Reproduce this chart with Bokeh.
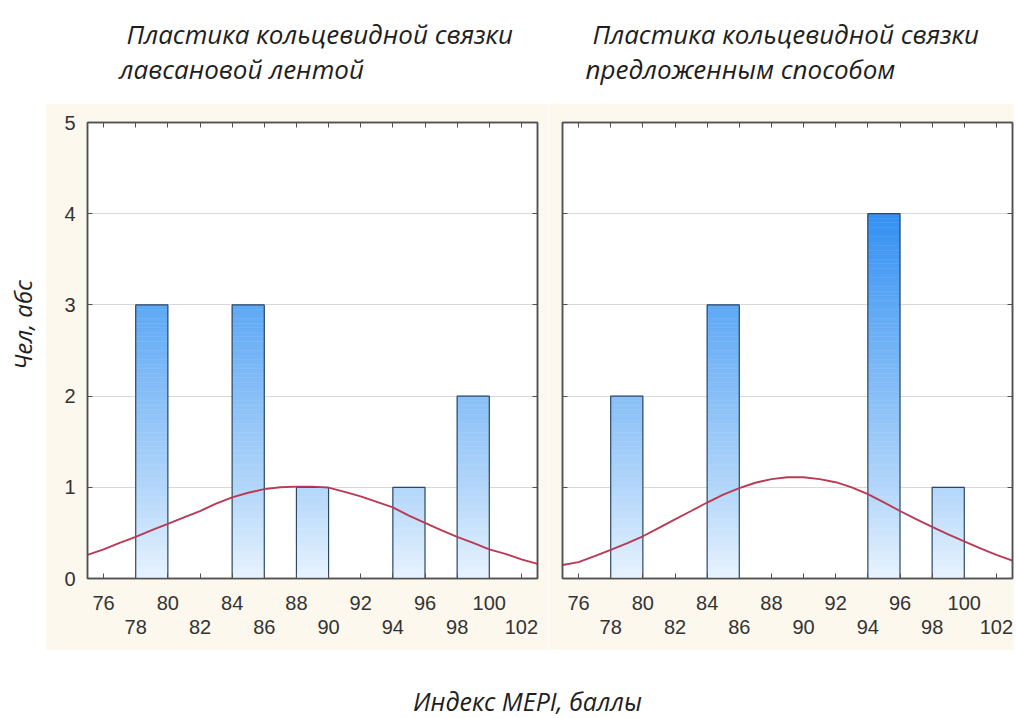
import math
import numpy as np
from bokeh.plotting import figure
from bokeh.models import Range1d, LinearAxis, FixedTicker, Label, ColumnDataSource, Grid
from bokeh.layouts import column, row
from bokeh.embed import file_html
from bokeh.resources import INLINE

# ---------------- data ----------------
title_left = ["Пластика кольцевидной связки", "лавсановой лентой"]
title_right = ["Пластика кольцевидной связки", "предложенным способом"]
y_label = "Чел, абс"
x_label = "Индекс MEPI, баллы"

left_bin_lo = [78, 84, 88, 94, 98]
left_bin_hi = [80, 86, 90, 96, 100]
left_counts = [3, 3, 1, 1, 2]

right_bin_lo = [78, 84, 94, 98]
right_bin_hi = [80, 86, 96, 100]
right_counts = [2, 3, 4, 1]

curve_x = [75, 76, 77, 78, 79, 80, 81, 82, 83, 84, 85, 86, 87, 88, 89,
           90, 91, 92, 93, 94, 95, 96, 97, 98, 99, 100, 101, 102, 103]
curve_left_y = [0.26, 0.32, 0.39, 0.456, 0.53, 0.60, 0.67, 0.74, 0.82, 0.89, 0.94, 0.98, 1.0, 1.007, 1.007,
                0.996, 0.95, 0.90, 0.84, 0.78, 0.69, 0.61, 0.53, 0.456, 0.39, 0.32, 0.27, 0.21, 0.16]
curve_right_y = [0.148, 0.18, 0.245, 0.315, 0.385, 0.463, 0.555, 0.648, 0.74, 0.833, 0.92, 0.99, 1.05, 1.09, 1.11,
                 1.11, 1.09, 1.056, 1.0, 0.926, 0.835, 0.74, 0.65, 0.567, 0.485, 0.407, 0.33, 0.26, 0.196]

x_ticks_row1 = [76, 80, 84, 88, 92, 96, 100]
x_ticks_row2 = [78, 82, 86, 90, 94, 98, 102]
y_ticks = [0, 1, 2, 3, 4, 5]

# ---------------- style ----------------
CREAM = "#fcf8ee"
AXIS_C = "#505050"
TICK_FONT = "Liberation Sans"
TICK_SIZE = "20px"
TICK_COLOR = "#333333"
TEXT_FONT = "Open Sans"
BAR_LINE = "#2c4866"
CURVE_C = "#b83a55"
GRAD_Y = [0, 1, 2, 3, 4]
GRAD_R = [232, 178, 136, 94, 52]
GRAD_G = [243, 214, 191, 168, 144]
GRAD_B = [254, 250, 247, 245, 242]
STEP = 0.05


def grad_color(yv):
    r = int(round(np.interp(yv, GRAD_Y, GRAD_R)))
    g = int(round(np.interp(yv, GRAD_Y, GRAD_G)))
    b = int(round(np.interp(yv, GRAD_Y, GRAD_B)))
    return "#%02x%02x%02x" % (r, g, b)


def blank(w, h):
    f = figure(width=w, height=h, x_range=Range1d(0, w), y_range=Range1d(0, h),
               output_backend="svg", toolbar_location=None,
               x_axis_location=None, y_axis_location=None, min_border=0,
               outline_line_color=None, background_fill_color="white",
               border_fill_color="white")
    for g in f.grid:
        g.visible = False
    return f


def hidden_label_axis(axis, ticks):
    axis.major_label_overrides = {t: "" for t in ticks}
    axis.major_label_standoff = 0
    axis.minor_tick_line_color = None
    axis.major_tick_in = 5
    axis.major_tick_out = 0
    axis.major_tick_line_color = AXIS_C
    axis.axis_line_color = AXIS_C
    axis.axis_line_width = 1.5


def panel(width, mb_left, mb_right, lo, hi, counts, cy, show_ylabels):
    p = figure(width=width, height=547, x_range=Range1d(75, 103), y_range=Range1d(0, 5),
               output_backend="svg", toolbar_location=None,
               x_axis_location=None, y_axis_location=None,
               min_border_left=mb_left, min_border_right=mb_right,
               min_border_top=19, min_border_bottom=72,
               background_fill_color="white", border_fill_color=CREAM,
               outline_line_color=AXIS_C, outline_line_width=1.5)
    for g in p.grid:
        g.visible = False
    p.add_layout(Grid(dimension=1, ticker=FixedTicker(ticks=[1, 2, 3, 4]),
                      grid_line_color="#d8d8d8", grid_line_width=1))

    all_x = sorted(x_ticks_row1 + x_ticks_row2)
    # bottom axes: two rows of labels
    ax1 = LinearAxis(ticker=FixedTicker(ticks=all_x))
    ax1.major_label_overrides = {t: "" for t in x_ticks_row2}
    ax1.major_tick_in = 5
    ax1.major_tick_out = 0
    ax1.minor_tick_line_color = None
    ax1.major_tick_line_color = AXIS_C
    ax1.axis_line_color = AXIS_C
    ax1.axis_line_width = 1.5
    ax1.major_label_standoff = 17
    ax1.major_label_text_font = TICK_FONT
    ax1.major_label_text_font_size = TICK_SIZE
    ax1.major_label_text_color = TICK_COLOR
    p.add_layout(ax1, "below")

    ax2 = LinearAxis(ticker=FixedTicker(ticks=x_ticks_row2))
    ax2.major_tick_line_color = None
    ax2.minor_tick_line_color = None
    ax2.axis_line_color = None
    ax2.major_label_standoff = 1
    ax2.major_label_text_font = TICK_FONT
    ax2.major_label_text_font_size = TICK_SIZE
    ax2.major_label_text_color = TICK_COLOR
    p.add_layout(ax2, "below")

    top = LinearAxis(ticker=FixedTicker(ticks=all_x))
    hidden_label_axis(top, all_x)
    p.add_layout(top, "above")

    right = LinearAxis(ticker=FixedTicker(ticks=y_ticks))
    hidden_label_axis(right, y_ticks)
    p.add_layout(right, "right")

    left = LinearAxis(ticker=FixedTicker(ticks=y_ticks))
    if show_ylabels:
        left.major_tick_in = 5
        left.major_tick_out = 0
        left.minor_tick_line_color = None
        left.major_tick_line_color = AXIS_C
        left.axis_line_color = AXIS_C
        left.axis_line_width = 1.5
        left.major_label_standoff = 12
        left.major_label_text_font = TICK_FONT
        left.major_label_text_font_size = TICK_SIZE
        left.major_label_text_color = TICK_COLOR
    else:
        hidden_label_axis(left, y_ticks)
    p.add_layout(left, "left")

    # gradient bars built from thin slices
    sl = dict(l=[], r=[], b=[], t=[], c=[])
    for a, bb, h in zip(lo, hi, counts):
        n = int(round(h / STEP))
        for k in range(n):
            y0 = k * STEP
            y1 = min((k + 1) * STEP, h)
            sl["l"].append(a)
            sl["r"].append(bb)
            sl["b"].append(y0)
            sl["t"].append(y1)
            sl["c"].append(grad_color((y0 + y1) / 2))
    p.quad(left="l", right="r", bottom="b", top="t", fill_color="c", line_color="c",
           line_width=0.5, source=ColumnDataSource(sl))
    p.quad(left=lo, right=hi, bottom=[0] * len(counts), top=counts,
           fill_color=None, line_color=BAR_LINE, line_width=1.2)

    p.line(curve_x, cy, line_color=CURVE_C, line_width=1.9)
    return p


left_fig = panel(503, 42, 11, left_bin_lo, left_bin_hi, left_counts, curve_left_y, True)
right_fig = panel(466, 14, 2, right_bin_lo, right_bin_hi, right_counts, curve_right_y, False)

# titles
title_fig = blank(1014, 103)
for txt, x, y in [(title_left[0], 126, 70), (title_left[1], 119, 35),
                  (title_right[0], 592, 70), (title_right[1], 585, 35)]:
    title_fig.add_layout(Label(x=x, y=y, text=txt, text_font=TEXT_FONT, text_font_style="italic",
                               text_font_size="26px", text_color="#1e1e1e",
                               text_align="left", text_baseline="middle"))

ylab_fig = blank(45, 547)
ylab_fig.add_layout(Label(x=22, y=304, text=y_label, angle=math.pi / 2, text_font=TEXT_FONT,
                          text_font_style="italic", text_font_size="24px", text_color="#1e1e1e",
                          text_align="center", text_baseline="middle"))

xlab_fig = blank(1014, 66)
xlab_fig.add_layout(Label(x=527, y=16, text=x_label, text_font=TEXT_FONT,
                          text_font_style="italic", text_font_size="25px", text_color="#1e1e1e",
                          text_align="center", text_baseline="middle"))

layout = column(title_fig, row(ylab_fig, left_fig, right_fig), xlab_fig, spacing=0)

open("out.html", "w").write(file_html(layout, INLINE))
